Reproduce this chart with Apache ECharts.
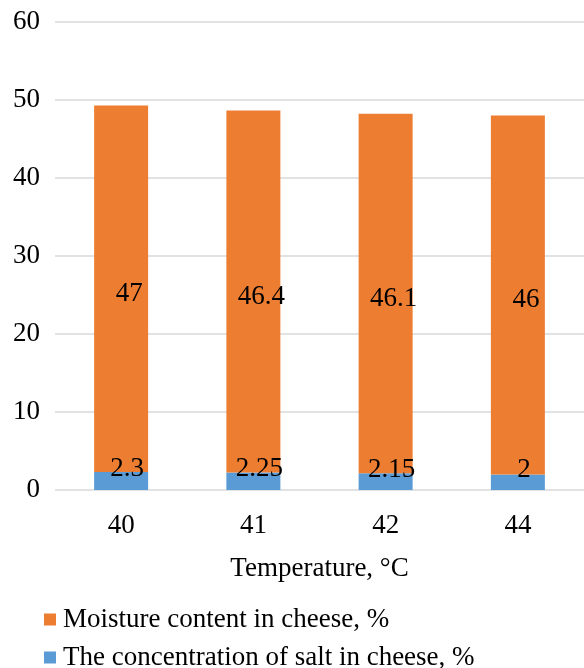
<!DOCTYPE html>
<html>
<head>
<meta charset="utf-8">
<script src="https://cdn.jsdelivr.net/npm/echarts@6/dist/echarts.min.js"></script>
<style>html,body{margin:0;padding:0;background:#fff;}#c{width:584px;height:668px;}</style>
</head>
<body>
<div id="c"></div>
<script>
const categories = ['40', '41', '42', '44'];
const moisture = [47, 46.4, 46.1, 46];
const salt = [2.3, 2.25, 2.15, 2];
const yTicks = [0, 10, 20, 30, 40, 50, 60];
const seriesNames = ['Moisture content in cheese, %', 'The concentration of salt in cheese, %'];

const FONT = '"Liberation Serif", "Times New Roman", serif';
const FS = 27;
const legendBase = {
  orient: 'vertical', left: 44, padding: 0,
  itemWidth: 12, itemHeight: 12, itemGap: 0, icon: 'rect',
  textStyle: { fontFamily: FONT, fontSize: FS, color: '#000', padding: [0, 0, 0, 2] }
};
const chart = echarts.init(document.getElementById('c'));
chart.setOption({
  animation: false,
  backgroundColor: '#fff',
  textStyle: { fontFamily: FONT },
  grid: { left: 55, right: -9, top: 22, bottom: 178, containLabel: false },
  legend: [
    Object.assign({}, legendBase, { top: 606, data: [seriesNames[0]] }),
    Object.assign({}, legendBase, { top: 644, data: [seriesNames[1]] })
  ],
  xAxis: {
    type: 'category', data: categories,
    name: 'Temperature, °C', nameLocation: 'middle', nameGap: 65,
    nameTextStyle: { fontFamily: FONT, fontSize: FS, color: '#000' },
    axisLine: { show: false }, axisTick: { show: false },
    axisLabel: { fontFamily: FONT, fontSize: FS, color: '#000', margin: 22 }
  },
  yAxis: {
    type: 'value', min: yTicks[0], max: yTicks[yTicks.length - 1], interval: 10,
    axisLine: { show: false }, axisTick: { show: false },
    axisLabel: { fontFamily: FONT, fontSize: FS, color: '#000', margin: 15 },
    splitLine: { lineStyle: { color: '#D9D9D9', width: 1.5 } }
  },
  series: [
    {
      name: seriesNames[1], type: 'bar', stack: 's',
      data: salt, barWidth: 54, itemStyle: { color: '#5B9BD5' },
      label: { show: true, position: 'inside', offset: [6, -12], fontFamily: FONT, fontSize: FS, color: '#000' }
    },
    {
      name: seriesNames[0], type: 'bar', stack: 's',
      data: moisture, barWidth: 54, itemStyle: { color: '#ED7D31' },
      label: { show: true, position: 'inside', offset: [8, 5], fontFamily: FONT, fontSize: FS, color: '#000' }
    }
  ]
});
</script>
</body>
</html>
